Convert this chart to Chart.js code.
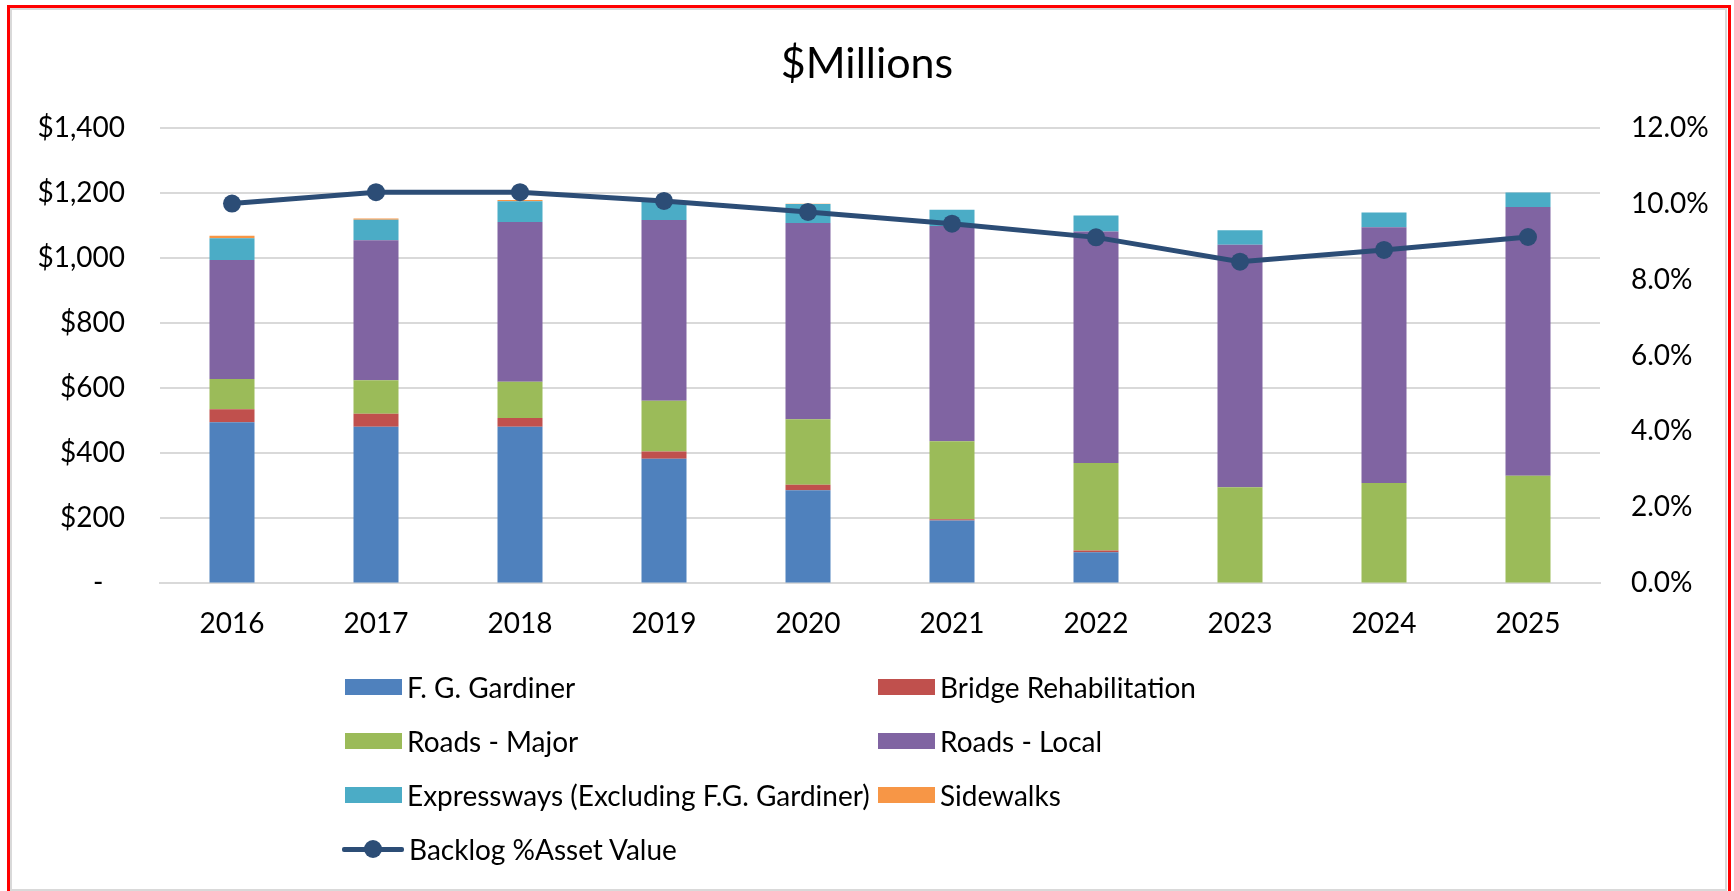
<!DOCTYPE html>
<html>
<head>
<meta charset="utf-8">
<style>
  body { margin: 0; background: #fff; }
  #wrap { position: relative; width: 1734px; height: 891px; overflow: hidden; background: #fff; }
  #frame { position: absolute; left: 7px; top: 5px; width: 1718px; height: 900px; border: 3px solid #ff0000; border-bottom: none; }
  #inner { position: absolute; left: 10px; top: 8px; width: 1713px; height: 879px; border: 2px solid #d9d9d9; }
  canvas { position: absolute; left: 0; top: 0; }
  #legend { position: absolute; left: 0; top: 0; width: 1734px; height: 891px; font-family: Lato, sans-serif; font-size: 28px; color: #000; }
  .item { position: absolute; display: flex; align-items: center; height: 40px; white-space: nowrap; }
  .box { width: 57px; height: 16px; margin-right: 5px; }
  .mk { position: relative; width: 62px; height: 18px; margin-right: 5px; }
  .mk .ln { position: absolute; left: 0; right: 0; top: 6.5px; height: 5px; border-radius: 2px; }
  .mk .dot { position: absolute; left: 22px; top: 0; width: 18px; height: 18px; border-radius: 50%; }
</style>
</head>
<body>
<div id="wrap">
  <div id="frame"></div>
  <div id="inner"></div>
  <canvas id="myChart" width="1734" height="891"></canvas>
  <div id="legend"></div>
</div>

<script src="https://cdn.jsdelivr.net/npm/chart.js"></script>
<script>
// data ($ millions, share of asset value)
const years = ['2016', '2017', '2018', '2019', '2020', '2021', '2022', '2023', '2024', '2025'];
const gardiner   = [495, 481, 481, 383, 286, 193, 96, 0, 0, 0];
const bridge     = [40, 40, 27, 22, 17, 4, 5, 0, 0, 0];
const roadsMajor = [93, 103, 111, 156, 201, 240, 269, 295, 308, 331];
const roadsLocal = [365, 430, 491, 555, 603, 661, 711, 745, 786, 825];
const expressways = [67, 63, 64, 56, 58, 50, 49, 45, 45, 45];
const sidewalks  = [8, 4, 4, 2, 1, 0, 0, 0, 0, 0];
const backlogPct = [0.100, 0.103, 0.103, 0.1007, 0.0978, 0.0947, 0.0911, 0.0847, 0.0878, 0.0912];

const leftTicks  = ['-   ', '$200', '$400', '$600', '$800', '$1,000', '$1,200', '$1,400'];
const rightTicks = ['0.0%', '2.0%', '4.0%', '6.0%', '8.0%', '10.0%', '12.0%'];

const barColors = ['#4f81bd', '#c0504d', '#9bbb59', '#8064a2', '#4bacc6', '#f79646'];
const lineColor = '#2c4d76';

const ctx = document.getElementById('myChart');
const fontFam = 'Lato, sans-serif';

function barSet(label, data, i) {
  return {
    type: 'bar', label: label, data: data, backgroundColor: barColors[i],
    borderWidth: 0, yAxisID: 'y', stack: 's', order: 1,
    categoryPercentage: 0.3125, barPercentage: 1
  };
}

const chart = new Chart(ctx, {
  data: {
    labels: years,
    datasets: [
      barSet('F. G. Gardiner', gardiner, 0),
      barSet('Bridge Rehabilitation', bridge, 1),
      barSet('Roads - Major', roadsMajor, 2),
      barSet('Roads - Local', roadsLocal, 3),
      barSet('Expressways (Excluding F.G. Gardiner)', expressways, 4),
      barSet('Sidewalks', sidewalks, 5),
      {
        type: 'line', label: 'Backlog %Asset Value', data: backlogPct, yAxisID: 'y1',
        borderColor: lineColor, backgroundColor: lineColor, borderWidth: 5,
        pointRadius: 9, pointHoverRadius: 9, pointBackgroundColor: lineColor,
        pointBorderWidth: 0, tension: 0, order: 0
      }
    ]
  },
  options: {
    responsive: false,
    animation: false,
    devicePixelRatio: 1,
    layout: { padding: { left: 0, right: 0, top: 0, bottom: 234 } },
    plugins: {
      legend: { display: false },
      tooltip: { enabled: false },
      title: {
        display: true, text: '$Millions', color: '#000',
        font: { family: fontFam, size: 43, weight: 'normal' },
        padding: { top: 38, bottom: 38 }
      }
    },
    scales: {
      x: {
        grid: { display: false },
        border: { display: true, color: '#d9d9d9', width: 2 },
        ticks: { color: '#000', font: { family: fontFam, size: 28 }, padding: 16, maxRotation: 0 }
      },
      y: {
        position: 'left', min: 0, max: 1400,
        grid: { color: '#d9d9d9', lineWidth: 2, drawTicks: false },
        border: { display: false },
        ticks: {
          stepSize: 200, padding: 35, color: '#000', font: { family: fontFam, size: 28 },
          callback: (v, i) => leftTicks[i]
        },
        afterFit: (s) => { s.width = 160; }
      },
      y1: {
        position: 'right', min: 0, max: 0.12,
        grid: { drawOnChartArea: false, drawTicks: false },
        border: { display: false },
        ticks: {
          stepSize: 0.02, padding: 31, color: '#000', font: { family: fontFam, size: 28 },
          callback: (v, i) => rightTicks[i]
        },
        afterFit: (s) => { s.width = 134; }
      }
    }
  }
});

// legend in two columns like the original
const legendEl = document.getElementById('legend');
const colX = [345, 878];
const rowY = [667, 721, 775, 829];
chart.data.datasets.forEach((ds, i) => {
  const item = document.createElement('div');
  item.className = 'item';
  item.style.left = colX[i % 2] + 'px';
  item.style.top = rowY[Math.floor(i / 2)] + 'px';
  if (ds.type === 'line') {
    item.style.left = (colX[0] - 3) + 'px';
    item.innerHTML = '<div class="mk"><div class="ln" style="background:' + ds.borderColor +
      '"></div><div class="dot" style="background:' + ds.borderColor + '"></div></div>';
  } else {
    item.innerHTML = '<div class="box" style="background:' + ds.backgroundColor + '"></div>';
  }
  const t = document.createElement('span');
  t.textContent = ds.label;
  item.appendChild(t);
  legendEl.appendChild(item);
});
</script>
</body>
</html>
